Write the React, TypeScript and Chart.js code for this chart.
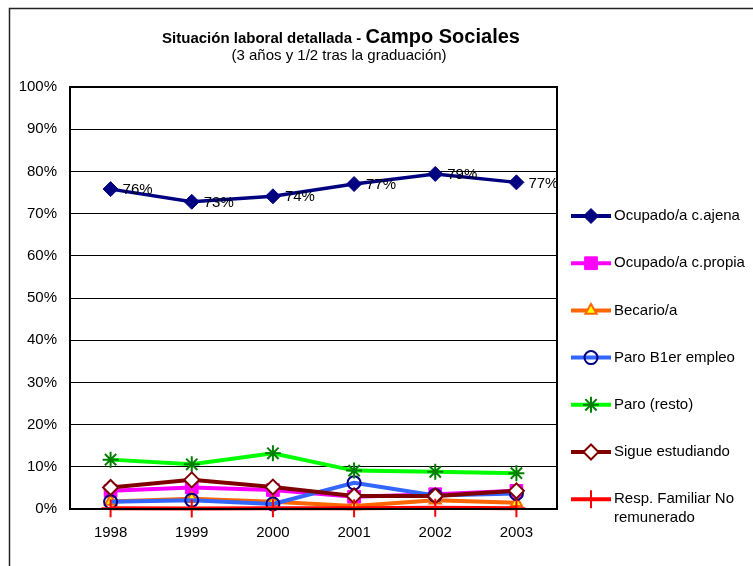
import React, { useEffect, useRef } from "react";
import { Chart, registerables } from "chart.js";
import { drawPoint } from "chart.js/helpers";

Chart.register(...registerables);

const years = ["1998", "1999", "2000", "2001", "2002", "2003"];
const ocupadoAjena = [75.8, 72.8, 74.1, 77.0, 79.4, 77.4];
const ocupadoPropia = [4.3, 5.1, 4.5, 2.9, 3.5, 4.3];
const becario = [1.8, 2.4, 1.7, 0.7, 2.1, 1.5];
const paroPrimer = [1.7, 2.1, 1.2, 6.2, 3.2, 3.7];
const paroResto = [11.7, 10.6, 13.2, 9.1, 8.8, 8.5];
const sigueEstudiando = [5.1, 6.9, 5.2, 3.1, 3.1, 4.3];
const respFamiliar = [0.2, 0.1, 0.2, 0.2, 0.3, 0.2];
const ajenaLabels = ["76%", "73%", "74%", "77%", "79%", "77%"];
const yTicks = [0, 10, 20, 30, 40, 50, 60, 70, 80, 90, 100];

const FONT = "'Liberation Sans', Arial, sans-serif";

type S = {
  label: string[];
  data: number[];
  line: string;
  style: string;
  radius: number;
  fill: string;
  stroke: string;
  bw: number;
  lw: number;
};

const series: S[] = [
  { label: ["Ocupado/a c.ajena"], data: ocupadoAjena, line: "#000080", style: "rectRot", radius: 7.5, fill: "#000080", stroke: "#000080", bw: 1, lw: 3.5 },
  { label: ["Ocupado/a c.propia"], data: ocupadoPropia, line: "#FF00FF", style: "rect", radius: 9, fill: "#FF00FF", stroke: "#FF00FF", bw: 1, lw: 4 },
  { label: ["Becario/a"], data: becario, line: "#FF6600", style: "triangle", radius: 6.5, fill: "#FFFF00", stroke: "#FF6600", bw: 2, lw: 4 },
  { label: ["Paro B1er empleo"], data: paroPrimer, line: "#3366FF", style: "circle", radius: 6.5, fill: "rgba(0,0,0,0)", stroke: "#000080", bw: 2, lw: 4 },
  { label: ["Paro (resto)"], data: paroResto, line: "#00FF00", style: "star", radius: 8, fill: "#008000", stroke: "#008000", bw: 2, lw: 4 },
  { label: ["Sigue estudiando"], data: sigueEstudiando, line: "#800000", style: "rectRot", radius: 7.5, fill: "#FFFFFF", stroke: "#800000", bw: 2, lw: 4 },
  { label: ["Resp. Familiar No", "remunerado"], data: respFamiliar, line: "#FF0000", style: "cross", radius: 9, fill: "#FF0000", stroke: "#FF0000", bw: 2, lw: 4 },
];

function drawMarker(ctx: any, style: string, radius: number, x: number, y: number) {
  drawPoint(ctx, { pointStyle: style, radius, rotation: 0, borderWidth: ctx.lineWidth } as any, x, y);
}

const decorPlugin = {
  id: "decor",
  afterDatasetsDraw(chart: any) {
    const ctx = chart.ctx;
    const meta = chart.getDatasetMeta(0);
    ctx.save();
    ctx.font = `15px ${FONT}`;
    ctx.fillStyle = "#000";
    ctx.textAlign = "left";
    ctx.textBaseline = "middle";
    meta.data.forEach((pt: any, i: number) => {
      ctx.fillText(ajenaLabels[i], pt.x + 12, pt.y + 1);
    });
    ctx.restore();
  },
  afterDraw(chart: any) {
    const ctx = chart.ctx;
    const a = chart.chartArea;
    ctx.save();
    ctx.strokeStyle = "#000";
    ctx.lineWidth = 2;
    ctx.strokeRect(a.left, a.top, a.right - a.left, a.bottom - a.top);
    ctx.lineWidth = 1.5;
    ctx.strokeStyle = "#222";
    ctx.beginPath();
    ctx.moveTo(9.5, 600);
    ctx.lineTo(9.5, 8.5);
    ctx.lineTo(800, 8.5);
    ctx.stroke();
    ctx.fillStyle = "#000";
    ctx.textBaseline = "alphabetic";
    ctx.textAlign = "left";
    const p1 = "Situación laboral detallada - ";
    const p2 = "Campo Sociales";
    ctx.font = `bold 15px ${FONT}`;
    const w1 = ctx.measureText(p1).width;
    ctx.font = `bold 20px ${FONT}`;
    const w2 = ctx.measureText(p2).width;
    const x0 = 341 - (w1 + w2) / 2;
    ctx.font = `bold 15px ${FONT}`;
    ctx.fillText(p1, x0, 43);
    ctx.font = `bold 20px ${FONT}`;
    ctx.fillText(p2, x0 + w1, 43);
    ctx.font = `15px ${FONT}`;
    ctx.textAlign = "center";
    ctx.textBaseline = "middle";
    ctx.fillText("(3 años y 1/2 tras la graduación)", 339, 56);
    series.forEach((s, i) => {
      const y = 216 + i * 47.2;
      ctx.strokeStyle = s.line;
      ctx.lineWidth = 4;
      ctx.beginPath();
      ctx.moveTo(571, y);
      ctx.lineTo(611, y);
      ctx.stroke();
      ctx.fillStyle = s.fill;
      ctx.strokeStyle = s.stroke;
      ctx.lineWidth = s.bw;
      drawMarker(ctx, s.style, s.radius, 591, y);
      ctx.fillStyle = "#000";
      ctx.font = `15px ${FONT}`;
      ctx.textAlign = "left";
      ctx.textBaseline = "middle";
      s.label.forEach((t, j) => ctx.fillText(t, 614, y + j * 19));
    });
    ctx.restore();
  },
};

export default function App() {
  const ref = useRef<HTMLCanvasElement>(null);
  useEffect(() => {
    document.body.style.margin = "0";
    const canvas = ref.current!;
    const chart = new Chart(canvas, {
      type: "line",
      data: {
        labels: years,
        datasets: series.map((s, i) => ({
          label: s.label.join(" "),
          data: s.data,
          borderColor: s.line,
          borderWidth: s.lw,
          backgroundColor: s.fill,
          pointStyle: s.style as any,
          pointRadius: s.radius,
          pointBackgroundColor: s.fill,
          pointBorderColor: s.stroke,
          pointBorderWidth: s.bw,
          fill: false,
          tension: 0,
          clip: false as any,
          order: -i,
        })),
      },
      options: {
        animation: false,
        responsive: false,
        devicePixelRatio: 1,
        layout: { padding: { left: 0, top: 87, right: 196, bottom: 0 } },
        plugins: { legend: { display: false }, tooltip: { enabled: false }, title: { display: false } },
        scales: {
          x: {
            offset: true,
            grid: { display: false, drawTicks: false },
            border: { display: false },
            ticks: { color: "#000", font: { family: FONT, size: 15 }, padding: 15, maxRotation: 0 },
            afterFit(scale: any) {
              scale.height = 57;
            },
          },
          y: {
            min: 0,
            max: 100,
            afterBuildTicks(scale: any) {
              scale.ticks = yTicks.map((v) => ({ value: v }));
            },
            grid: { color: "#000", lineWidth: 1, drawTicks: false },
            border: { display: false },
            ticks: {
              color: "#000",
              font: { family: FONT, size: 15 },
              padding: 13,
              callback: (v: any) => `${v}%`,
            },
            afterFit(scale: any) {
              scale.width = 70;
            },
          },
        },
      },
      plugins: [decorPlugin],
    });
    return () => chart.destroy();
  }, []);
  return <canvas ref={ref} width={753} height={566} style={{ display: "block" }} />;
}
